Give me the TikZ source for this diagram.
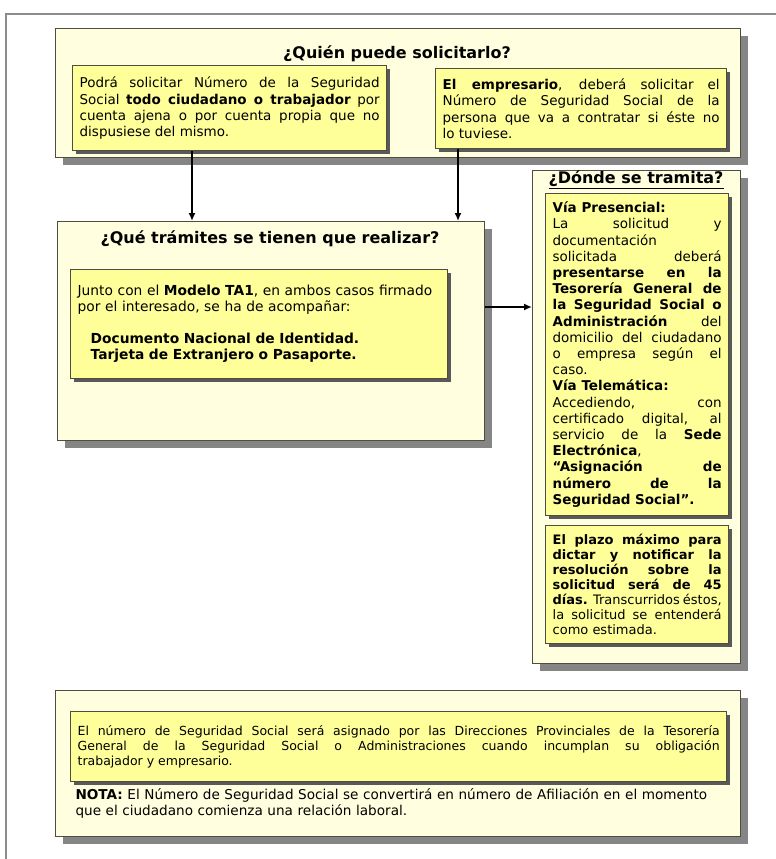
\documentclass[tikz,border=0pt]{standalone}
\usepackage{fontspec}
\setmainfont{DejaVu Sans}
\usetikzlibrary{positioning,shadows,arrows.meta}
\definecolor{paleyellow}{HTML}{FFFFDF}
\definecolor{boxyellow}{HTML}{FFFF99}
\definecolor{edgegray}{HTML}{4D4D40}
\definecolor{shadowgray}{HTML}{858585}
\definecolor{framegray}{HTML}{8C8C8C}
\setlength\parindent{0pt}
\hyphenpenalty=10000
\exhyphenpenalty=10000
\tolerance=9999

\tikzset{
  outerbox/.style={draw=edgegray,fill=paleyellow,line width=1.3pt,anchor=north west,inner sep=0pt,
    drop shadow={shadow xshift=7pt,shadow yshift=-7pt,fill=shadowgray,opacity=1}},
  innerbox/.style={draw=edgegray,fill=boxyellow,line width=1.3pt,anchor=north west,
    inner xsep=7pt,inner ysep=5pt,align=justify,font=\fontsize{13.5}{16.2}\selectfont,
    drop shadow={shadow xshift=3pt,shadow yshift=-3pt,fill=black!65,opacity=1}},
  heading/.style={font=\fontsize{16}{18}\selectfont\bfseries},
  arr/.style={-{Latex[length=8pt,width=7pt]},line width=1.8pt}
}

\begin{document}
\begin{tikzpicture}[x=1pt,y=-1pt]
  \useasboundingbox (0,0) rectangle (776,859);
  \draw[framegray,line width=1.2pt] (6,859) -- (6,14) -- (776,14);

  % who can apply
  \node[outerbox,minimum width=685pt,minimum height=129pt] (quien) at (55,28) {};
  \node[heading] (tQuien) at (397,54) {¿Quién puede solicitarlo?};
  \node[innerbox,text width=300pt,minimum height=85pt] (quienL) at (72,65)
    {Podrá solicitar Número de la Seguridad\linebreak Social \textbf{todo ciudadano o trabajador} por\linebreak cuenta ajena o por cuenta propia que no\linebreak dispusiese del mismo.\par\vspace{18pt}};
  \node[innerbox,text width=277pt,minimum height=80pt] (quienR) at (435,68)
    {\textbf{El empresario}, deberá solicitar el\linebreak Número de Seguridad Social de la\linebreak persona que va a contratar si éste no\linebreak lo tuviese.\par\vspace{16pt}};

  % what to do
  \node[outerbox,minimum width=427pt,minimum height=219pt] (tramites) at (57,221) {};
  \node[heading] (tTramites) at (270,239) {¿Qué trámites se tienen que realizar?};
  \node[innerbox,text width=363pt,minimum height=109pt,align=left,font=\fontsize{13.8}{16}\selectfont] (tramitesIn) at (70,269)
    {Junto con el \textbf{Modelo TA1}, en ambos casos firmado\\
     por el interesado, se ha de acompañar:\\[16pt]
     \hspace*{13pt}\textbf{Documento Nacional de Identidad.}\\
     \hspace*{13pt}\textbf{Tarjeta de Extranjero o Pasaporte.}\\[18pt]};

  % where
  \node[outerbox,minimum width=208pt,minimum height=493pt] (donde) at (532,170) {};
  \node[heading] (tDonde) at (636,180) {\underline{¿Dónde se tramita?}};
  \node[innerbox,text width=169pt,minimum height=322pt] (dondeA) at (545,193)
    {\textbf{Vía Presencial:}\par
     La solicitud y\linebreak documentación\linebreak solicitada deberá\linebreak
     \textbf{presentarse en la\linebreak Tesorería General de\linebreak la Seguridad Social o\linebreak
     Administración} del\linebreak domicilio del ciudadano\linebreak o empresa según el\linebreak caso.\par
     \textbf{Vía Telemática:}\par
     Accediendo, con\linebreak certificado digital, al\linebreak servicio de la \textbf{Sede\linebreak
     Electrónica}, \textbf{“Asignación de\linebreak número de la\linebreak Seguridad Social”.}};
  \node[innerbox,text width=169pt,minimum height=118pt,font=\fontsize{13}{15}\selectfont] (dondeB) at (545,525)
    {\textbf{El plazo máximo para\linebreak dictar y notificar la\linebreak resolución sobre la\linebreak
     solicitud será de 45\linebreak días.} Transcurridos éstos,\linebreak la solicitud se entenderá\linebreak
     como estimada.\par\vspace{12pt}};

  % bottom note
  \node[outerbox,minimum width=685pt,minimum height=146pt] (nota) at (55,690) {};
  \node[innerbox,text width=642pt,minimum height=70pt,font=\fontsize{12.5}{15}\selectfont] (notaIn) at (70,711)
    {El número de Seguridad Social será asignado por las Direcciones Provinciales de la Tesorería\linebreak
     General de la Seguridad Social o Administraciones cuando incumplan su obligación\linebreak
     trabajador y empresario.};
  \node[anchor=north west,text width=650pt,align=left,font=\fontsize{13.6}{16}\selectfont] (notaTxt) at (72,785)
    {\textbf{NOTA:} El Número de Seguridad Social se convertirá en número de Afiliación en el momento\\
     que el ciudadano comienza una relación laboral.};

  % connectors
  \coordinate (pL) at (192,0);
  \coordinate (pR) at (458,0);
  \coordinate (pM) at (0,307);
  \draw[arr] (quienL.south -| pL) -- (tramites.north -| pL);
  \draw[arr] (quienR.south -| pR) -- (tramites.north -| pR);
  \draw[arr] (tramites.east |- pM) -- (donde.west |- pM);
\end{tikzpicture}
\end{document}
